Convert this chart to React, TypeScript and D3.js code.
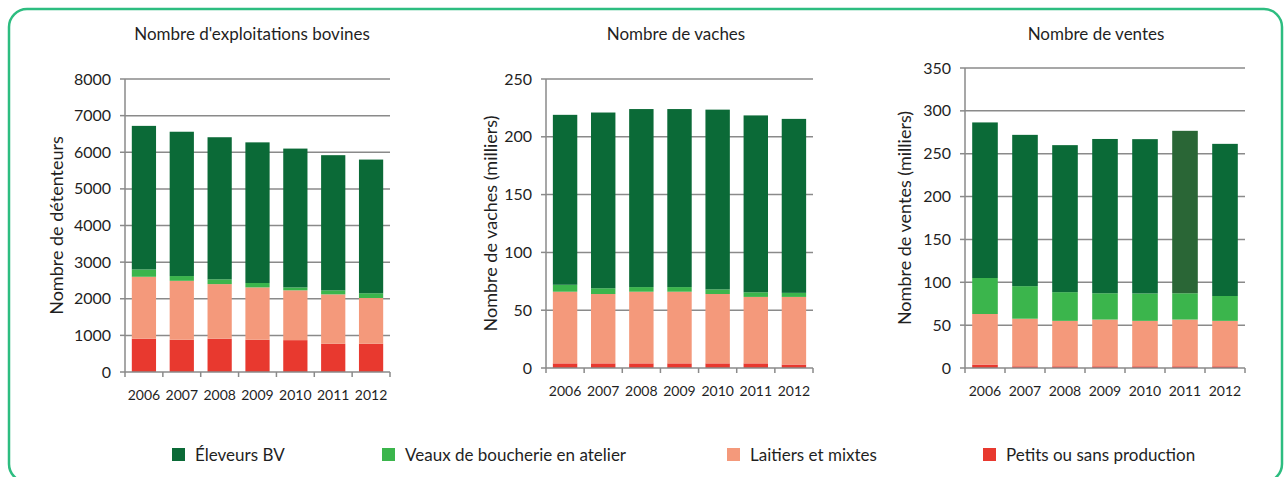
// App.tsx
import React, { useRef, useEffect } from 'react';
import * as d3 from 'd3';

// Categories and series
const years = ['2006', '2007', '2008', '2009', '2010', '2011', '2012'];
const seriesNames = [
  'Éleveurs BV',
  'Veaux de boucherie en atelier',
  'Laitiers et mixtes',
  'Petits ou sans production',
];
const seriesColors = ['#0b6a37', '#3bb54c', '#f4997b', '#e8392f'];

// Nombre d'exploitations bovines
const exploitEleveurs = [3920, 3940, 3880, 3840, 3790, 3690, 3650];
const exploitVeaux = [200, 130, 130, 120, 80, 110, 130];
const exploitLaitiers = [1690, 1610, 1490, 1430, 1360, 1350, 1250];
const exploitPetits = [910, 880, 910, 880, 870, 770, 770];

// Nombre de vaches (milliers)
const vachesEleveurs = [147, 152, 154, 154, 155.5, 153, 150.5];
const vachesVeaux = [6, 5, 4, 4, 4, 4, 3.5];
const vachesLaitiers = [62, 60, 62, 62, 60, 57.5, 58.5];
const vachesPetits = [4, 4, 4, 4, 4, 4, 3];

// Nombre de ventes (milliers)
const ventesEleveurs = [181.5, 176.5, 171.5, 180, 180, 189.5, 177.5];
const ventesVeaux = [42, 38, 33.5, 30.7, 32, 30.7, 29];
const ventesLaitiers = [59, 55.5, 53, 54.5, 53, 54.5, 53];
const ventesPetits = [4, 2, 2, 2, 2, 2, 2];

const FONT = 'Lato, "Open Sans", sans-serif';
const INK = '#1f1f1f';

const App = () => {
  const svgRef = useRef<SVGSVGElement>(null);

  useEffect(() => {
    document.body.style.margin = '0';
    const svg = d3.select(svgRef.current);
    svg.selectAll('*').remove();

    // rounded green frame (bottom edge falls just below the picture)
    svg.append('rect')
      .attr('x', 9).attr('y', 9)
      .attr('width', 1273).attr('height', 473)
      .attr('rx', 18)
      .attr('fill', 'none')
      .attr('stroke', '#2dbd80')
      .attr('stroke-width', 2.5);

    const panels = [
      {
        title: "Nombre d'exploitations bovines", titleX: 252,
        yLabel: 'Nombre de détenteurs', yLabelX: 57,
        max: 8000, step: 1000,
        x0: 125, x1: 390, yTop: 79, yBottom: 372,
        series: [exploitPetits, exploitLaitiers, exploitVeaux, exploitEleveurs],
      },
      {
        title: 'Nombre de vaches', titleX: 676,
        yLabel: 'Nombre de vaches (milliers)', yLabelX: 491,
        max: 250, step: 50,
        x0: 546, x1: 813, yTop: 79, yBottom: 368,
        series: [vachesPetits, vachesLaitiers, vachesVeaux, vachesEleveurs],
      },
      {
        title: 'Nombre de ventes', titleX: 1096,
        yLabel: 'Nombre de ventes (milliers)', yLabelX: 905,
        max: 350, step: 50,
        x0: 965, x1: 1245, yTop: 68, yBottom: 368,
        series: [ventesPetits, ventesLaitiers, ventesVeaux, ventesEleveurs],
      },
    ];

    // bottom-to-top stack order: petits, laitiers, veaux, eleveurs
    const stackColors = [seriesColors[3], seriesColors[2], seriesColors[1], seriesColors[0]];
    const keys = ['petits', 'laitiers', 'veaux', 'eleveurs'];

    panels.forEach((p, pi) => {
      const g = svg.append('g');
      const x = d3.scaleBand().domain(years).range([p.x0, p.x1])
        .paddingInner(0.36).paddingOuter(0.18);
      const y = d3.scaleLinear().domain([0, p.max]).range([p.yBottom, p.yTop]);
      const ticks = d3.range(0, p.max + p.step, p.step);

      // gridlines
      g.selectAll('.grid').data(ticks.filter(t => t > 0)).join('line')
        .attr('x1', p.x0).attr('x2', p.x1)
        .attr('y1', d => y(d)).attr('y2', d => y(d))
        .attr('stroke', '#8a8a8a').attr('stroke-width', 1.5);

      // stacked bars
      const rows = years.map((yr, i) => {
        const r: any = { year: yr };
        keys.forEach((k, j) => { r[k] = p.series[j][i]; });
        return r;
      });
      const stacked = d3.stack().keys(keys)(rows);
      stacked.forEach((layer, li) => {
        g.append('g').selectAll('rect').data(layer).join('rect')
          .attr('x', d => x(d.data.year))
          .attr('width', x.bandwidth())
          .attr('y', d => y(d[1]))
          .attr('height', d => y(d[0]) - y(d[1]))
          .attr('fill', d => (pi === 2 && li === 3 && d.data.year === '2011') ? '#2a6636' : stackColors[li]);
      });

      // axes
      g.append('line')
        .attr('x1', p.x0).attr('x2', p.x0)
        .attr('y1', p.yTop).attr('y2', p.yBottom)
        .attr('stroke', '#8a8a8a').attr('stroke-width', 1.5);
      g.append('line')
        .attr('x1', p.x0).attr('x2', p.x1)
        .attr('y1', p.yBottom).attr('y2', p.yBottom)
        .attr('stroke', '#8a8a8a').attr('stroke-width', 1.5);

      // y ticks + labels
      g.selectAll('.yt').data(ticks).join('line')
        .attr('x1', p.x0 - 5).attr('x2', p.x0)
        .attr('y1', d => y(d)).attr('y2', d => y(d))
        .attr('stroke', '#8a8a8a').attr('stroke-width', 1.5);
      g.selectAll('.yl').data(ticks).join('text')
        .attr('x', p.x0 - 14).attr('y', d => y(d))
        .attr('dy', '0.35em').attr('text-anchor', 'end')
        .attr('font-family', FONT).attr('font-size', 16)
        .attr('fill', INK)
        .text(d => d);

      // x ticks at band boundaries
      const bounds = years.map(yr => x(yr) - x.step() * x.paddingInner() / 2).concat([p.x1]);
      bounds[0] = p.x0;
      g.selectAll('.xt').data(bounds).join('line')
        .attr('x1', d => d).attr('x2', d => d)
        .attr('y1', p.yBottom).attr('y2', p.yBottom + 5)
        .attr('stroke', '#8a8a8a').attr('stroke-width', 1.5);
      g.selectAll('.xl').data(years).join('text')
        .attr('x', d => x(d) + x.bandwidth() / 2)
        .attr('y', p.yBottom + 28)
        .attr('text-anchor', 'middle')
        .attr('font-family', FONT).attr('font-size', 14)
        .attr('fill', INK)
        .text(d => d);

      // titles
      g.append('text')
        .attr('x', p.titleX).attr('y', 40)
        .attr('text-anchor', 'middle')
        .attr('font-family', FONT).attr('font-size', 17)
        .attr('fill', INK)
        .text(p.title);
      g.append('text')
        .attr('transform', `translate(${p.yLabelX},${(p.yTop + p.yBottom) / 2}) rotate(-90)`)
        .attr('dy', '0.35em')
        .attr('text-anchor', 'middle')
        .attr('font-family', FONT).attr('font-size', 18)
        .attr('fill', INK)
        .text(p.yLabel);
    });

    // legend
    const legendX = [172, 382, 727, 983];
    const legend = svg.append('g');
    seriesNames.forEach((name, i) => {
      legend.append('rect')
        .attr('x', legendX[i]).attr('y', 448)
        .attr('width', 13).attr('height', 13)
        .attr('fill', seriesColors[i]);
      legend.append('text')
        .attr('x', legendX[i] + 23).attr('y', 455)
        .attr('dy', '0.35em')
        .attr('font-family', FONT).attr('font-size', 17)
        .attr('fill', INK)
        .text(name);
    });
  }, []);

  return (
    <svg ref={svgRef} width={1285} height={477} style={{ display: 'block' }}></svg>
  );
};

export default App;
